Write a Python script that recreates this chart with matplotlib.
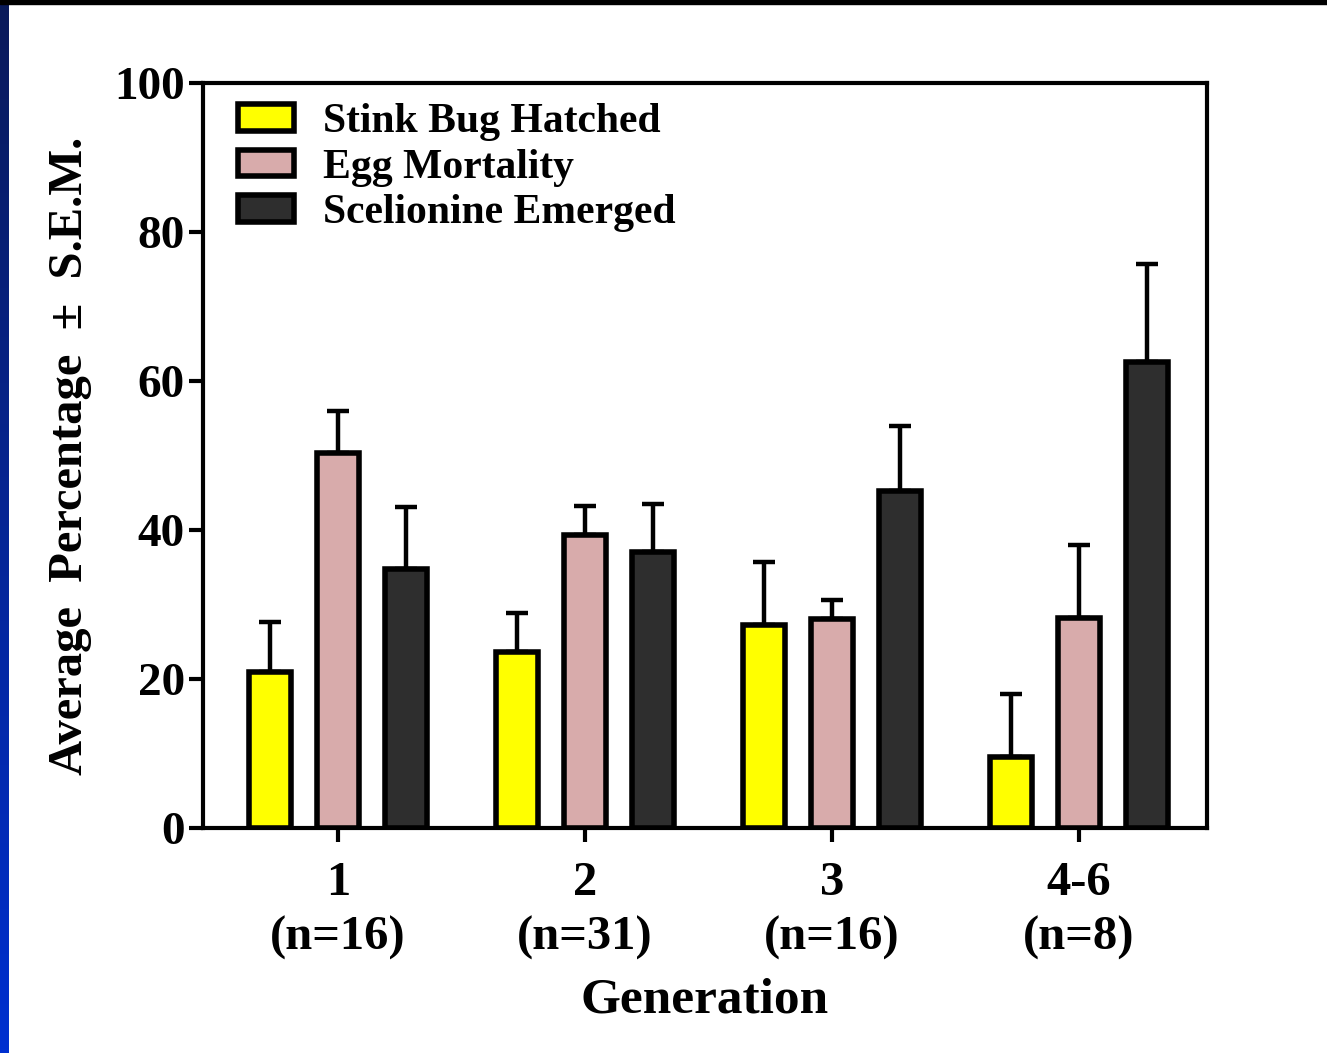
from matplotlib import pyplot as plt
from matplotlib.colors import LinearSegmentedColormap
import numpy as np

# Datos
generaciones = ['1\n(n=16)', '2\n(n=31)', '3\n(n=16)', '4-6\n(n=8)']
series = ['Stink Bug Hatched', 'Egg Mortality', 'Scelionine Emerged']
colores = ['#FFFF00', '#D8ABAB', '#2E2E2E']

hatched = [20.9, 23.6, 27.2, 9.5]
hatched_sem = [6.8, 5.3, 8.5, 8.5]
mortality = [50.3, 39.3, 28.1, 28.2]
mortality_sem = [5.7, 3.9, 2.5, 9.8]
emerged = [34.8, 37.0, 45.2, 62.6]
emerged_sem = [8.3, 6.5, 8.8, 13.1]

medias = [hatched, mortality, emerged]
errores = [hatched_sem, mortality_sem, emerged_sem]

plt.rcParams['font.family'] = 'Liberation Serif'
plt.rcParams['font.weight'] = 'bold'

fig = plt.figure(figsize=(13.27, 10.53), dpi=100)

# Borde de la diapositiva: franja negra arriba y azul a la izquierda
borde = fig.add_axes([0, 0, 0.0065, 1])
grad = np.linspace(0, 1, 256).reshape(-1, 1)
cmap_borde = LinearSegmentedColormap.from_list('borde', ['#0A1A5A', '#0030D0'])
borde.imshow(grad, aspect='auto', cmap=cmap_borde, extent=[0, 1, 0, 1])
borde.axis('off')
fig.patches.append(plt.Rectangle((0, 0.9965), 1, 0.0035, transform=fig.transFigure,
                                 color='black', zorder=10))

ax = fig.add_axes([0.153, 0.2137, 0.7566, 0.7075])

x = np.arange(len(generaciones))
desplaz = 0.275
ancho = 0.172
for i in range(3):
    pos = x + (i - 1) * desplaz
    ax.bar(pos, medias[i], ancho, color=colores[i], edgecolor='black',
           linewidth=4, label=series[i], zorder=3)
    ax.errorbar(pos, medias[i], yerr=[np.zeros(4), errores[i]], fmt='none',
                ecolor='black', elinewidth=3.2, capsize=8, capthick=3.2, zorder=2)

ax.set_xlim(-0.547, 3.518)
ax.set_ylim(0, 100)
ax.set_yticks([0, 20, 40, 60, 80, 100])
ax.set_xticks(x)
ax.set_xticklabels(generaciones, fontsize=35, fontweight='bold', linespacing=1.3)
ax.tick_params(axis='y', labelsize=34, width=3, length=10, direction='out', pad=3)
ax.tick_params(axis='x', width=3, length=10, direction='out', pad=14)
for s in ax.spines.values():
    s.set_linewidth(3)

ax.set_ylabel('Average  Percentage  ±  S.E.M.', fontsize=35, fontweight='bold', labelpad=16)
ax.set_xlabel('Generation', fontsize=37, fontweight='bold', labelpad=13)

ax.legend(loc='upper left', frameon=False, fontsize=30, handlelength=1.35,
          handleheight=0.6, handletextpad=0.7, labelspacing=0.18,
          bbox_to_anchor=(-0.003, 1.023))

fig.savefig('out.png', dpi=100)
